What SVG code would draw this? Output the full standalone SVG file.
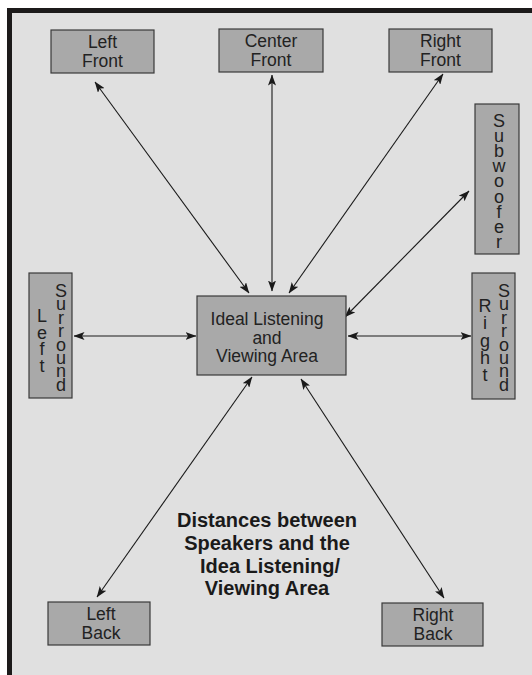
<svg xmlns="http://www.w3.org/2000/svg" width="532" height="675" viewBox="0 0 532 675">
<defs>
<marker id="ah" viewBox="0 0 11 8" refX="10.5" refY="4" markerWidth="11" markerHeight="8" markerUnits="userSpaceOnUse" orient="auto-start-reverse">
<path d="M0,0 L11,4 L0,8 L2.5,4 z" fill="#1a1a1a"/>
</marker>
<style>
.box{fill:#a9a9a9;stroke:#3a3a3a;stroke-width:1.2}
.lbl{font-family:"Liberation Sans",Arial,sans-serif;font-size:17.5px;fill:#222;text-anchor:middle}
.vl{font-family:"Liberation Sans",Arial,sans-serif;font-size:18px;fill:#222;text-anchor:middle}
.title{font-family:"Liberation Sans",Arial,sans-serif;font-size:20px;font-weight:bold;fill:#1a1a1a;text-anchor:middle}
.con{stroke:#1a1a1a;stroke-width:1.1;fill:none;marker-start:url(#ah);marker-end:url(#ah)}
</style>
</defs>
<rect x="0" y="0" width="532" height="675" fill="#ffffff"/>
<rect x="7" y="8" width="525" height="667" fill="#1c1a1a"/>
<rect x="12" y="13" width="520" height="662" fill="#e0e0e0"/>

<g id="connectors">
<line class="con" x1="95" y1="82" x2="249" y2="293"/>
<line class="con" x1="272" y1="75" x2="272" y2="291"/>
<line class="con" x1="443" y1="74" x2="289" y2="293"/>
<line class="con" x1="469" y1="191" x2="345" y2="317"/>
<line class="con" x1="74" y1="336" x2="196" y2="336"/>
<line class="con" x1="348" y1="336" x2="471" y2="336"/>
<line class="con" x1="252" y1="377" x2="97" y2="597"/>
<line class="con" x1="301" y1="379" x2="444" y2="598"/>
</g>

<g id="left-front">
<rect class="box" x="51" y="30" width="103" height="43"/>
<text class="lbl" x="102.5" y="48">Left</text>
<text class="lbl" x="102.5" y="67">Front</text>
</g>
<g id="center-front">
<rect class="box" x="219" y="29" width="104" height="43"/>
<text class="lbl" x="271" y="47">Center</text>
<text class="lbl" x="271" y="66">Front</text>
</g>
<g id="right-front">
<rect class="box" x="389" y="29" width="103" height="43"/>
<text class="lbl" x="440.5" y="47">Right</text>
<text class="lbl" x="440.5" y="66">Front</text>
</g>
<g id="subwoofer">
<rect class="box" x="475" y="104" width="44" height="150"/>
<text class="vl" x="499" y="127"><tspan x="499">S</tspan><tspan x="499" dy="15.1">u</tspan><tspan x="499" dy="15.1">b</tspan><tspan x="499" dy="15.1">w</tspan><tspan x="499" dy="15.1">o</tspan><tspan x="499" dy="15.1">o</tspan><tspan x="499" dy="15.1">f</tspan><tspan x="499" dy="15.1">e</tspan><tspan x="499" dy="15.1">r</tspan></text>
</g>
<g id="left-surround">
<rect class="box" x="29" y="273" width="43" height="125"/>
<text class="vl" x="42" y="322"><tspan x="42">L</tspan><tspan x="42" dy="16.7">e</tspan><tspan x="42" dy="16.7">f</tspan><tspan x="42" dy="16.7">t</tspan></text>
<text class="vl" x="61" y="297"><tspan x="61">S</tspan><tspan x="61" dy="13.4">u</tspan><tspan x="61" dy="13.4">r</tspan><tspan x="61" dy="13.4">r</tspan><tspan x="61" dy="13.4">o</tspan><tspan x="61" dy="13.4">u</tspan><tspan x="61" dy="13.4">n</tspan><tspan x="61" dy="13.4">d</tspan></text>
</g>
<g id="ideal-area">
<rect class="box" x="197" y="296" width="149" height="79"/>
<text class="lbl" x="267" y="325">Ideal Listening</text>
<text class="lbl" x="267" y="343.5">and</text>
<text class="lbl" x="267" y="362">Viewing Area</text>
</g>
<g id="right-surround">
<rect class="box" x="472" y="273" width="43" height="126"/>
<text class="vl" x="485" y="312"><tspan x="485">R</tspan><tspan x="485" dy="17.3">i</tspan><tspan x="485" dy="17.3">g</tspan><tspan x="485" dy="17.3">h</tspan><tspan x="485" dy="17.3">t</tspan></text>
<text class="vl" x="504" y="297"><tspan x="504">S</tspan><tspan x="504" dy="13.4">u</tspan><tspan x="504" dy="13.4">r</tspan><tspan x="504" dy="13.4">r</tspan><tspan x="504" dy="13.4">o</tspan><tspan x="504" dy="13.4">u</tspan><tspan x="504" dy="13.4">n</tspan><tspan x="504" dy="13.4">d</tspan></text>
</g>
<g id="left-back">
<rect class="box" x="48" y="602" width="102" height="43"/>
<text class="lbl" x="101" y="620">Left</text>
<text class="lbl" x="101" y="639">Back</text>
</g>
<g id="right-back">
<rect class="box" x="382" y="603" width="101" height="43"/>
<text class="lbl" x="433" y="621">Right</text>
<text class="lbl" x="433" y="640">Back</text>
</g>

<g id="title">
<text class="title" x="267" y="527">Distances between</text>
<text class="title" x="267" y="550">Speakers and the</text>
<text class="title" x="270" y="573">Idea Listening/</text>
<text class="title" x="267" y="595">Viewing Area</text>
</g>
</svg>
